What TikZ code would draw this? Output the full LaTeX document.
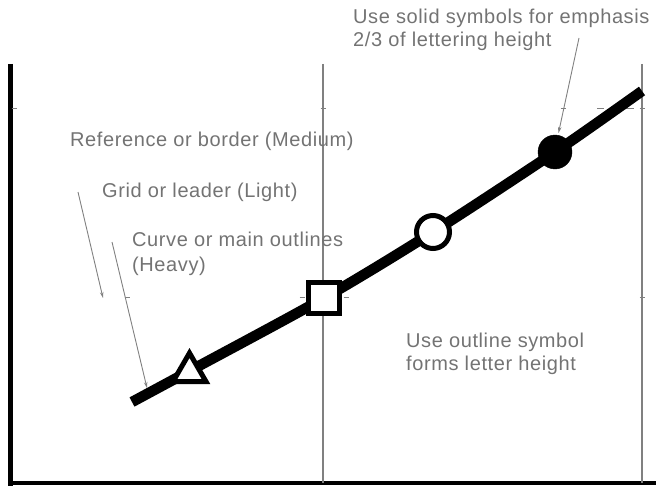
\documentclass[tikz,border=0pt]{standalone}
\usepackage{fontspec}
\setmainfont{Liberation Sans}[LetterSpace=3]
\usetikzlibrary{arrows.meta,shapes.geometric}
\begin{document}
\begin{tikzpicture}[x=1pt,y=-1pt,
  lbl/.style={anchor=base west, inner sep=0pt, text=black!55, font=\fontsize{20}{22}\selectfont},
  gridline/.style={black!50, line width=1.5pt},
  leader/.style={black!50, line width=0.9pt, -{Stealth[length=6pt,width=3.5pt]}},
  tickmark/.style={black!50, line width=1pt},
  heavy/.style={line width=10.5pt},
  sym/.style={draw, line width=5pt, fill=white, inner sep=0pt}]
\useasboundingbox (0,0) rectangle (656,487);
% axes
\coordinate (axtop) at (10.5,64);
\coordinate (axcorner) at (10.5,483);
\coordinate (axright) at (656,483);
\draw[line width=5pt] (axtop) -- (10.5,485.5);
\draw[line width=4.5pt] (8,483) -- (axright);
% grid lines
\coordinate (g1t) at (323,64); \coordinate (g1b) at (323,483);
\coordinate (g2t) at (642,64); \coordinate (g2b) at (642,483);
\draw[gridline] (g1t) -- (g1b);
\draw[gridline] (g2t) -- (g2b);
% faint tick remnants
\foreach \x in {14,323,563,642} \draw[tickmark] (\x-2.5,108) -- (\x+2.5,108);
\draw[tickmark] (597,108) -- (604,108);
\draw[tickmark] (624,108) -- (634,108);
\foreach \x in {127,302,346,642} \draw[tickmark] (\x-2.5,297) -- (\x+2.5,297);
% heavy curve
\draw[heavy] plot[smooth, tension=0.5] coordinates {(132,402) (189.5,371) (324,298) (433,232) (555,152) (642,91)};
% symbols
\node[sym, regular polygon, regular polygon sides=3, minimum size=38pt] (tri) at (189.5,372) {};
\node[sym, rectangle, minimum size=31pt] (sq) at (324,298) {};
\node[sym, circle, minimum size=33pt] (oc) at (433,232) {};
\node[draw, fill=black, circle, minimum size=34pt, inner sep=0pt] (fc) at (555,152) {};
% labels
\node[lbl] (t1) at (353,24) {Use solid symbols for emphasis};
\node[lbl] (t2) at (353,47) {2/3 of lettering height};
\node[lbl] (ref) at (70,146) {Reference or border (Medium)};
\node[lbl] (grd) at (102,197) {Grid or leader (Light)};
\node[lbl] (cur) at (132,246) {Curve or main outlines};
\node[lbl] (hvy) at (132,271) {(Heavy)};
\node[lbl] (uo1) at (406,347) {Use outline symbol};
\node[lbl] (uo2) at (406,370) {forms letter height};
% leaders
\coordinate (l1s) at (78,192); \coordinate (l1e) at (103,298);
\coordinate (l2s) at (112,242); \coordinate (l2e) at (147,388);
\coordinate (l3s) at (579,38); \coordinate (l3e) at (558.5,133);
\draw[leader] (l1s) -- (l1e);
\draw[leader] (l2s) -- (l2e);
\draw[leader] (l3s) -- (l3e);
\end{tikzpicture}
\end{document}
